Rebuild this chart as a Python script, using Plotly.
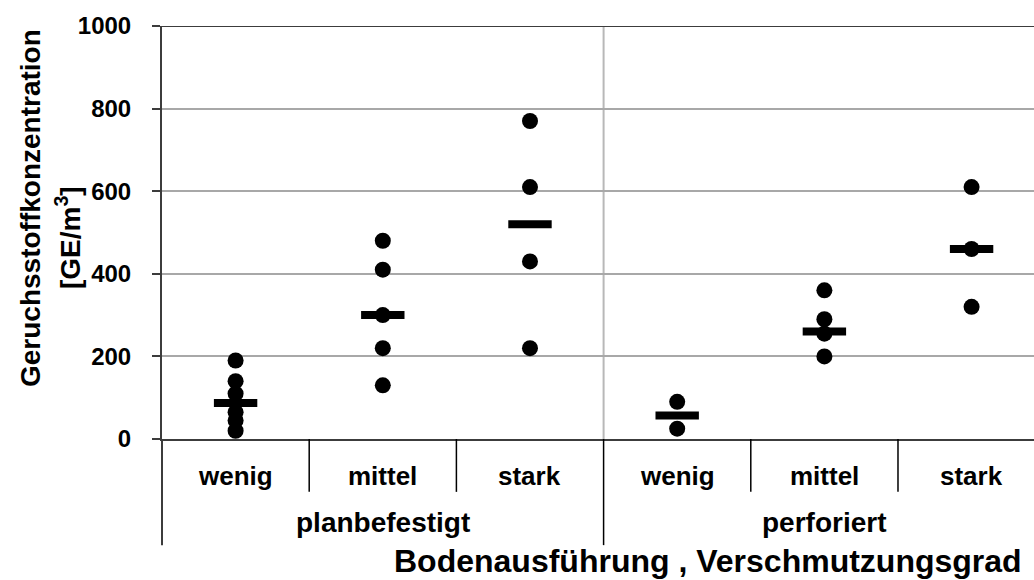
import plotly.graph_objects as go

# Geruchsstoffkonzentration je Bodenausführung und Verschmutzungsgrad
groups = ["planbefestigt", "perforiert"]
levels = ["wenig", "mittel", "stark"]

pl_wenig = [190, 140, 110, 65, 45, 20]
pl_mittel = [480, 410, 300, 220, 130]
pl_stark = [770, 610, 430, 220]
pf_wenig = [90, 25]
pf_mittel = [360, 290, 255, 200]
pf_stark = [610, 460, 320]
medians = [87, 300, 520, 57, 260, 460]

series = [pl_wenig, pl_mittel, pl_stark, pf_wenig, pf_mittel, pf_stark]
y_ticks = [0, 200, 400, 600, 800, 1000]

FONT = "Liberation Sans, Arial, sans-serif"
AXIS_COL = "#3c3c3c"
GRID_COL = "#a8a8a8"

x_range = [-0.5, 5.424]


def bold(size):
    return dict(family=FONT, size=size, color="black", weight="bold")


fig = go.Figure()

for i, vals in enumerate(series):
    fig.add_trace(go.Scatter(
        x=[i] * len(vals), y=vals, mode="markers",
        marker=dict(symbol="circle", size=16, color="black"),
        showlegend=False, cliponaxis=False,
    ))

fig.add_trace(go.Scatter(
    x=list(range(len(medians))), y=medians, mode="markers",
    marker=dict(symbol="line-ew", size=31, line=dict(width=8, color="black")),
    showlegend=False, cliponaxis=False,
))

shapes = []
# Rahmen oben
shapes.append(dict(type="line", xref="paper", yref="y", x0=0, x1=1, y0=1000, y1=1000,
                   line=dict(color=AXIS_COL, width=2), layer="above"))
# Trennlinie zwischen den Bodenausführungen im Diagramm
shapes.append(dict(type="line", xref="x", yref="y", x0=2.5, x1=2.5, y0=0, y1=1000,
                   line=dict(color="#b8b8b8", width=2), layer="below"))
# Trennlinien der Kategorieachse
for b in [0.5, 1.5, 3.5, 4.5]:
    shapes.append(dict(type="line", xref="x", yref="paper", x0=b, x1=b, y0=0, y1=-0.128,
                       line=dict(color="black", width=1.5)))
shapes.append(dict(type="line", xref="x", yref="paper", x0=2.5, x1=2.5, y0=0, y1=-0.257,
                   line=dict(color="black", width=1.5)))
shapes.append(dict(type="line", xref="paper", yref="paper", x0=0, x1=0, y0=0, y1=-0.257,
                   line=dict(color=AXIS_COL, width=2)))

annotations = []
for i in range(6):
    annotations.append(dict(x=i, y=-0.089, xref="x", yref="paper", text=levels[i % 3],
                            showarrow=False, yanchor="middle", xanchor="center",
                            font=bold(26)))
for g, xc in zip(groups, [1, 4]):
    annotations.append(dict(x=xc, y=-0.202, xref="x", yref="paper", text=g,
                            showarrow=False, yanchor="middle", xanchor="center",
                            font=bold(28)))
annotations.append(dict(x=(708 - 162) / 872, y=-0.296, xref="paper", yref="paper",
                        text="Bodenausführung , Verschmutzungsgrad", showarrow=False,
                        yanchor="middle", xanchor="center", font=bold(32)))
annotations.append(dict(x=-(162 - 30) / 872, y=(439 - 208) / 413, xref="paper", yref="paper",
                        text="Geruchsstoffkonzentration", showarrow=False, textangle=-90,
                        yanchor="middle", xanchor="center", font=bold(28)))
annotations.append(dict(x=-(162 - 68) / 872, y=(439 - 238) / 413, xref="paper", yref="paper",
                        text="[GE/m<sup>3</sup>]", showarrow=False, textangle=-90,
                        yanchor="middle", xanchor="center", font=bold(28)))

fig.update_layout(
    width=1034, height=580,
    margin=dict(l=162, r=0, t=26, b=141),
    paper_bgcolor="white", plot_bgcolor="white",
    showlegend=False,
    shapes=shapes, annotations=annotations,
    xaxis=dict(range=x_range, showgrid=False, zeroline=False, showticklabels=False,
               showline=True, linecolor=AXIS_COL, linewidth=2, ticks=""),
    yaxis=dict(range=[0, 1000], tickvals=y_ticks, ticktext=[str(v) for v in y_ticks],
               showgrid=True, gridcolor=GRID_COL, gridwidth=1.5, zeroline=False,
               showline=True, linecolor=AXIS_COL, linewidth=2,
               ticks="outside", ticklen=8, tickwidth=2, tickcolor=AXIS_COL,
               ticklabelstandoff=16,
               tickfont=bold(24)),
)

fig.write_html("out.html")
